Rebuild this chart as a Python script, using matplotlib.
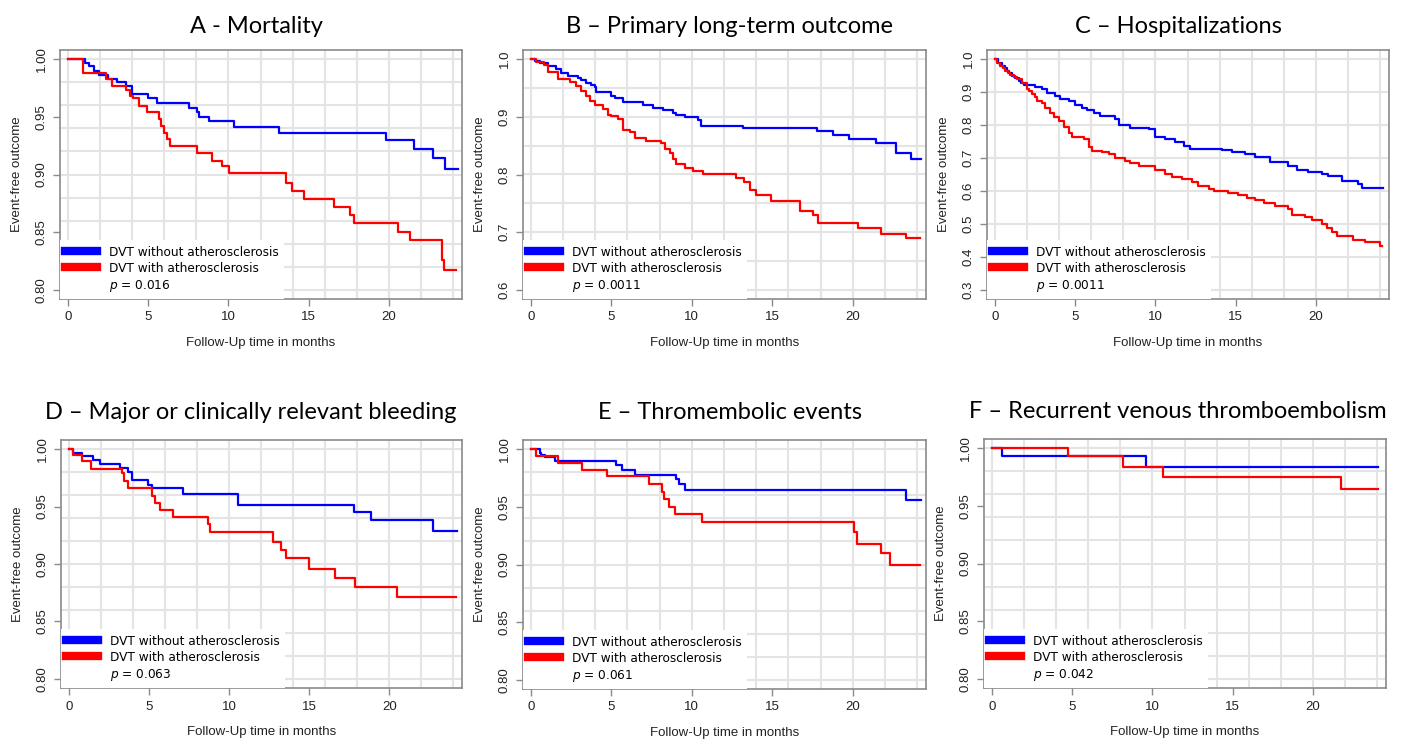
"""Six Kaplan-Meier style panels: DVT with vs. without atherosclerosis."""

import matplotlib
matplotlib.use("Agg")
import matplotlib.pyplot as plt
from matplotlib.lines import Line2D
from matplotlib.ticker import MultipleLocator, FixedLocator
import numpy as np

TITLES = [
    "A - Mortality",
    "B \u2013 Primary long-term outcome",
    "C \u2013 Hospitalizations",
    "D \u2013 Major or clinically relevant bleeding",
    "E \u2013 Thromembolic events",
    "F \u2013 Recurrent venous thromboembolism",
]
P_VALUES = ["0.016", "0.0011", "0.0011", "0.063", "0.061", "0.042"]
Y_MIN = [0.80, 0.6, 0.3, 0.80, 0.80, 0.80]
Y_TICK_STEP = [0.05, 0.1, 0.1, 0.05, 0.05, 0.05]
Y_GRID_STEP = [0.02, 0.05, 0.1, 0.02, 0.02, 0.02]
X_TICKS = [0, 5, 10, 15, 20]
LABEL_NO = "DVT without atherosclerosis"
LABEL_ATH = "DVT with atherosclerosis"

# A - mortality
A_T_NO = [0, 1.08, 1.35, 1.66, 1.95, 2.53, 3.05, 3.63, 3.98, 5.02, 5.53, 7.54, 8.02,
          8.19, 8.81, 10.36, 13.16, 19.83, 21.55, 22.73, 23.46, 24.29]
A_S_NO = [1.0, 0.997, 0.994, 0.990, 0.986, 0.983, 0.980, 0.977, 0.970, 0.966, 0.962, 0.958,
          0.954, 0.950, 0.946, 0.941, 0.936, 0.930, 0.922, 0.914, 0.905, 0.905]
A_T_ATH = [0, 0.97, 2.38, 2.74, 3.63, 3.88, 4.04, 4.46, 4.91, 5.66, 5.80, 6.01, 6.16, 6.36,
           8.02, 8.95, 9.58, 10.05, 13.58, 13.93, 14.69, 16.58, 17.55, 17.82, 20.56, 21.28,
           23.30, 23.42, 24.19]
A_S_ATH = [1.0, 0.988, 0.983, 0.977, 0.973, 0.968, 0.966, 0.959, 0.954, 0.948, 0.942, 0.936,
           0.931, 0.925, 0.919, 0.912, 0.907, 0.901, 0.893, 0.886, 0.879, 0.872, 0.865, 0.858,
           0.850, 0.843, 0.826, 0.817, 0.817]

# B - primary long-term outcome
B_T_NO = [0, 0.25, 0.56, 1.08, 1.59, 1.90, 2.32, 2.94, 3.14, 3.45, 3.76, 3.97, 4.03, 5.01,
          5.21, 5.73, 6.97, 7.59, 8.21, 8.83, 9.04, 9.56, 10.38, 10.55, 13.17, 17.79, 18.76,
          19.75, 21.45, 22.69, 23.62, 24.24]
B_S_NO = [1.0, 0.997, 0.993, 0.988, 0.983, 0.976, 0.971, 0.968, 0.964, 0.959, 0.955, 0.951,
          0.943, 0.936, 0.932, 0.925, 0.920, 0.916, 0.912, 0.907, 0.903, 0.899, 0.895, 0.885,
          0.881, 0.875, 0.868, 0.861, 0.854, 0.837, 0.827, 0.827]
B_T_ATH = [0, 0.35, 0.81, 1.08, 1.70, 2.42, 2.83, 3.14, 3.45, 3.66, 3.97, 4.49, 4.80, 5.01,
           5.42, 5.73, 6.14, 6.45, 7.18, 8.11, 8.31, 8.62, 8.83, 9.04, 9.56, 10.07, 10.69,
           12.76, 13.22, 13.59, 14.00, 14.93, 16.69, 17.52, 17.83, 20.31, 21.76, 23.31, 24.18]
B_S_ATH = [1.0, 0.995, 0.990, 0.978, 0.966, 0.961, 0.954, 0.945, 0.936, 0.928, 0.920, 0.913,
           0.904, 0.901, 0.897, 0.878, 0.873, 0.864, 0.858, 0.854, 0.845, 0.837, 0.827, 0.819,
           0.812, 0.806, 0.801, 0.794, 0.787, 0.773, 0.765, 0.754, 0.736, 0.729, 0.715, 0.707,
           0.697, 0.690, 0.690]

# C - hospitalizations
C_T_NO = [0, 0.2, 0.46, 0.62, 0.77, 0.92, 1.08, 1.25, 1.49, 1.65, 1.80, 2.53, 2.94, 3.26,
          3.77, 4.08, 4.60, 5.01, 5.43, 5.74, 6.16, 6.57, 7.50, 7.71, 8.44, 9.58, 9.99, 10.61,
          11.23, 11.75, 12.17, 12.89, 14.13, 14.76, 15.59, 16.21, 17.14, 18.28, 18.80, 19.52,
          20.35, 20.77, 21.60, 22.63, 22.84, 24.19]
C_S_NO = [1.0, 0.99, 0.98, 0.972, 0.965, 0.957, 0.949, 0.942, 0.934, 0.927, 0.921, 0.917,
          0.911, 0.897, 0.888, 0.878, 0.873, 0.860, 0.853, 0.846, 0.836, 0.828, 0.817, 0.799,
          0.792, 0.787, 0.765, 0.757, 0.748, 0.736, 0.728, 0.726, 0.724, 0.718, 0.711, 0.704,
          0.688, 0.675, 0.665, 0.657, 0.650, 0.645, 0.630, 0.620, 0.610, 0.610]
C_T_ATH = [0, 0.15, 0.35, 0.5, 0.66, 0.82, 0.97, 1.2, 1.39, 1.70, 2.01, 2.16, 2.32, 2.48,
           2.63, 2.94, 3.15, 3.46, 3.67, 3.98, 4.29, 4.60, 4.81, 5.53, 5.84, 6.05, 6.67, 7.09,
           7.50, 8.12, 8.44, 8.95, 9.99, 10.61, 11.03, 11.65, 12.27, 12.68, 13.31, 13.62,
           14.55, 15.17, 15.69, 16.21, 16.73, 17.45, 18.28, 18.49, 19.32, 19.73, 20.35, 20.66,
           20.97, 21.28, 22.32, 23.05, 23.98, 24.08]
C_S_ATH = [1.0, 0.99, 0.98, 0.972, 0.965, 0.958, 0.951, 0.945, 0.939, 0.929, 0.911, 0.902,
           0.894, 0.884, 0.873, 0.866, 0.853, 0.838, 0.826, 0.813, 0.793, 0.777, 0.765, 0.757,
           0.732, 0.722, 0.719, 0.712, 0.701, 0.691, 0.684, 0.675, 0.665, 0.650, 0.643, 0.635,
           0.627, 0.614, 0.606, 0.599, 0.594, 0.589, 0.579, 0.572, 0.562, 0.554, 0.546, 0.528,
           0.521, 0.511, 0.501, 0.487, 0.474, 0.462, 0.452, 0.444, 0.432, 0.432]

# D - bleeding
D_T_NO = [0, 0.25, 0.81, 1.54, 1.95, 3.20, 3.71, 3.92, 4.96, 5.17, 7.14, 10.56, 17.82,
          18.86, 22.70, 24.25]
D_S_NO = [1.0, 0.997, 0.994, 0.991, 0.987, 0.984, 0.980, 0.973, 0.969, 0.966, 0.961, 0.951,
          0.945, 0.938, 0.929, 0.929]
D_T_ATH = [0, 0.29, 0.81, 1.37, 3.30, 3.46, 3.71, 5.17, 5.37, 5.68, 6.51, 8.69, 8.80, 12.74,
           13.22, 13.57, 15.02, 16.64, 17.86, 20.48, 24.15]
D_S_ATH = [1.0, 0.995, 0.990, 0.983, 0.979, 0.972, 0.966, 0.959, 0.953, 0.947, 0.941, 0.935,
           0.928, 0.919, 0.912, 0.905, 0.896, 0.888, 0.880, 0.871, 0.871]

# E - thromboembolic events
E_T_NO = [0, 0.56, 0.66, 0.87, 1.49, 5.32, 5.69, 6.45, 9.04, 9.20, 9.56, 23.31, 24.24]
E_S_NO = [1.0, 0.997, 0.995, 0.993, 0.990, 0.986, 0.982, 0.978, 0.974, 0.970, 0.965, 0.956,
          0.956]
E_T_ATH = [0, 0.31, 1.70, 3.19, 4.76, 7.32, 8.17, 8.27, 8.58, 8.93, 10.63, 20.04, 20.27,
           21.76, 22.28, 24.14]
E_S_ATH = [1.0, 0.994, 0.988, 0.982, 0.977, 0.970, 0.963, 0.957, 0.950, 0.944, 0.937, 0.928,
           0.918, 0.910, 0.900, 0.900]

# F - recurrent VTE
F_T_NO = [0, 0.62, 9.58, 24.04]
F_S_NO = [1.0, 0.993, 0.984, 0.984]
F_T_ATH = [0, 4.77, 8.15, 10.63, 21.76, 24.04]
F_S_ATH = [1.0, 0.993, 0.984, 0.975, 0.965, 0.965]

CURVES = [
    (A_T_NO, A_S_NO, A_T_ATH, A_S_ATH),
    (B_T_NO, B_S_NO, B_T_ATH, B_S_ATH),
    (C_T_NO, C_S_NO, C_T_ATH, C_S_ATH),
    (D_T_NO, D_S_NO, D_T_ATH, D_S_ATH),
    (E_T_NO, E_S_NO, E_T_ATH, E_S_ATH),
    (F_T_NO, F_S_NO, F_T_ATH, F_S_ATH),
]

# axes boxes in pixels: left, top, right, bottom
W, H = 1406, 742
BOXES = [
    (60, 50, 462, 299), (523, 50, 926, 299), (987, 50, 1389, 299),
    (61, 440, 462, 688), (523, 440, 926, 689), (984, 439, 1386, 688),
]
TITLE_X = [0.488, 0.513, 0.476, 0.474, 0.514, 0.481]
TITLE_PAD = [12, 12, 12, 15, 15, 15]

AXIS_FONT = "Liberation Sans"
GRID_C = "#e4e4e4"
SPINE_C = "#8a8a8a"

fig = plt.figure(figsize=(W / 100, H / 100), dpi=100)
plt.rcParams["mathtext.fontset"] = "dejavusans"

for i in range(6):
    l, t, r, b = BOXES[i]
    ax = fig.add_axes([l / W, 1 - b / H, (r - l) / W, (b - t) / H])
    t_no, s_no, t_ath, s_ath = CURVES[i]
    ax.step(t_no, s_no, where="post", color="#0000ff", lw=1.6, zorder=3)
    ax.step(t_ath, s_ath, where="post", color="#ff0000", lw=1.6, zorder=3)

    ymin = Y_MIN[i]
    pad = (1.0 - ymin) * 0.04
    ax.set_xlim(-0.48, 24.54)
    ax.set_ylim(ymin - pad, 1.0 + pad)

    yticks = np.arange(ymin, 1.0 + 1e-9, Y_TICK_STEP[i])
    ax.set_xticks(X_TICKS)
    ax.set_yticks(yticks)
    fmt = "%.2f" if Y_TICK_STEP[i] < 0.1 else "%.1f"
    ax.set_yticklabels([fmt % v for v in yticks], rotation=90, va="center",
                       family=AXIS_FONT, fontsize=9.5, color="#222222")
    ax.set_xticklabels([str(v) for v in X_TICKS], family=AXIS_FONT, fontsize=9.5,
                       color="#222222")

    ax.xaxis.set_minor_locator(MultipleLocator(2))
    ax.yaxis.set_minor_locator(FixedLocator(np.arange(ymin, 1.0 + 1e-9, Y_GRID_STEP[i])))
    ax.xaxis.remove_overlapping_locs = False
    ax.yaxis.remove_overlapping_locs = False
    ax.grid(False, which="major")
    ax.grid(True, which="minor", color=GRID_C, lw=1.5)
    ax.set_axisbelow(True)
    ax.tick_params(which="minor", length=0)
    ax.tick_params(which="major", length=5, width=1, color=SPINE_C, pad=4)
    for sp in ax.spines.values():
        sp.set_color(SPINE_C)
        sp.set_linewidth(1.2)

    ax.set_xlabel("Follow-Up time in months", family=AXIS_FONT, fontsize=9.5,
                  color="#222222", labelpad=10)
    ax.set_ylabel("Event-free outcome", family=AXIS_FONT, fontsize=9.5,
                  color="#222222", labelpad=9)
    ax.set_title(TITLES[i], family="Lato", fontsize=17, x=TITLE_X[i], pad=TITLE_PAD[i])

    handles = [
        Line2D([], [], color="#0000ff", lw=6),
        Line2D([], [], color="#ff0000", lw=6),
        Line2D([], [], color="none"),
    ]
    labels = [LABEL_NO, LABEL_ATH, "$p$ = " + P_VALUES[i]]
    leg = ax.legend(handles, labels, loc="lower left", borderaxespad=0, frameon=True,
                    fancybox=False, framealpha=1, facecolor="white", edgecolor="white",
                    prop={"family": "DejaVu Sans", "size": 8.7}, handlelength=2.6,
                    handletextpad=1.0, labelspacing=0.25, borderpad=0.45)
    leg.get_frame().set_linewidth(0)
    leg.set_zorder(5)

fig.savefig("out.png", dpi=100)
